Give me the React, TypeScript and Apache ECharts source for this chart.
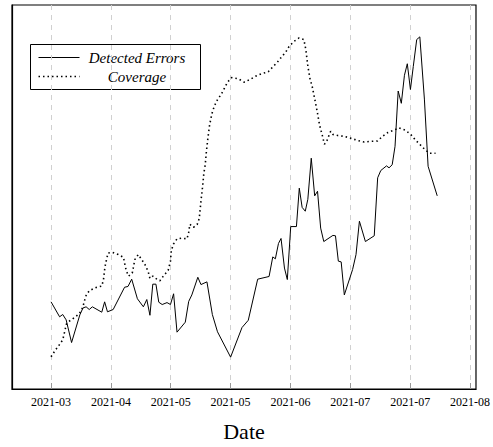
import React, { useEffect, useRef } from "react";
import * as echarts from "echarts";

// x = days since 2021-03-22, y = relative level (0-100 of plot height)
const errorDays = [
  0.0, 3.0, 4.1, 5.3, 7.2, 10.1, 11.2, 12.3, 13.4, 14.5, 17.8, 18.8, 19.8, 21.8,
  25.8, 27.0, 28.3, 30.3, 32.4, 33.6, 34.7, 35.7, 36.8, 37.8, 39.0, 40.7, 41.9,
  43.0, 44.2, 47.1, 48.3, 49.4, 51.5, 52.6, 54.7, 56.6, 58.4, 63.0, 67.0, 69.2,
  72.5, 76.5, 77.8, 78.7, 79.8, 80.7, 81.9, 82.9, 84.1, 86.1, 87.1, 88.1, 89.2,
  90.1, 91.3, 92.5, 93.5, 94.6, 95.7, 98.9, 99.8, 100.8, 101.8, 102.9, 105.8,
  107.0, 108.2, 110.3, 113.4, 114.6, 115.7, 117.7, 118.6, 119.7, 120.7, 121.8,
  122.9, 124.0, 125.0, 126.1, 127.1, 128.3, 129.4, 131.0, 132.3, 135.5,
];
const errorValues = [
  22.7, 18.8, 19.4, 18.0, 12.1, 19.3, 21.1, 21.4, 20.7, 21.4, 20.0, 22.7, 20.1, 20.7,
  26.5, 26.7, 28.6, 23.5, 21.4, 23.3, 19.2, 27.3, 27.3, 22.6, 22.0, 22.5, 22.0,
  24.8, 14.8, 17.4, 22.8, 24.5, 29.1, 27.2, 27.9, 19.4, 14.9, 8.3, 16.0, 17.9,
  28.6, 29.3, 34.4, 33.9, 37.9, 39.2, 31.5, 28.5, 42.3, 42.3, 52.3, 47.3, 46.3,
  49.4, 60.1, 50.3, 51.5, 41.9, 38.4, 40.0, 39.9, 33.3, 33.1, 24.5, 31.1,
  35.0, 43.7, 38.4, 39.9, 55.0, 56.9, 58.1, 57.6, 58.4, 63.2, 77.6,
  74.4, 81.7, 84.7, 78.0, 84.0, 91.0, 91.7, 75.5, 58.0, 50.3,
];

const coverageDays = [
  0.0, 1.4, 2.8, 4.1, 4.8, 5.4, 6.1, 8.2, 9.9, 11.1, 12.2, 13.4, 15.7, 17.8, 18.4,
  18.9, 19.4, 20.0, 21.5, 23.6, 25.4, 25.8, 26.4, 27.2, 28.5, 29.4, 30.6, 32.0,
  33.2, 34.1, 34.7, 35.7, 36.7, 38.2, 39.6, 41.1, 41.9, 42.2, 43.0, 44.2, 45.9,
  47.7, 48.3, 48.7, 50.0, 51.3, 52.0, 52.7, 53.2, 53.6, 54.1, 54.5, 55.0, 55.6,
  56.4, 57.3, 58.5, 59.7, 60.8, 61.9, 63.4, 65.7, 67.7, 69.8, 71.9, 73.8, 76.2,
  77.7, 79.4, 80.8, 82.4, 83.5, 85.2, 87.0, 88.7, 89.4, 90.1, 90.9, 91.6, 92.5,
  93.4, 94.2, 94.8, 95.4, 95.9, 96.5, 97.4, 98.1, 98.9, 100.6, 102.9, 105.2,
  107.6, 109.9, 112.2, 114.6, 116.3, 118.2, 120.3, 122.1, 124.3, 126.2, 127.8,
  129.4, 131.0, 132.7, 134.9,
];
const coverageValues = [
  8.4, 10.0, 11.4, 12.8, 15.0, 16.9, 17.5, 18.6, 19.6, 21.2, 24.2, 25.6, 26.4, 26.8, 28.5,
  31.7, 33.5, 35.4, 35.6, 35.0, 34.3, 32.8, 30.8, 29.4, 30.2, 33.7, 35.0, 33.5,
  32.1, 30.5, 28.8, 29.4, 28.8, 28.2, 29.6, 30.9, 33.3, 36.1, 37.8, 39.1, 39.3,
  39.1, 40.8, 42.9, 42.1, 42.9, 44.4, 49.6, 52.9, 56.1, 58.4, 61.8, 65.1, 68.6,
  71.6, 73.7, 75.5, 76.7, 78.3, 79.9, 81.1, 80.8, 79.9, 80.6, 81.5, 82.1, 82.6,
  83.8, 85.1, 86.4, 87.8, 89.2, 90.5, 91.4, 91.0, 88.4, 84.1, 80.6, 78.9, 75.6,
  72.2, 68.8, 67.1, 65.4, 63.8, 64.1, 65.8, 67.1, 66.3, 66.0, 65.8, 65.3,
  64.7, 64.3, 64.5, 64.6, 65.8, 66.8, 67.4, 68.0, 67.4, 66.3, 64.9,
  63.7, 62.5, 61.4, 61.4,
];

const tickDays = [0, 21, 42, 63, 84, 105, 126, 147];
const tickLabels = ["2021-03", "2021-04", "2021-05", "2021-05", "2021-06", "2021-07", "2021-07", "2021-08"];
const seriesNames = ["Detected Errors", "Coverage"];

const SERIF = "Liberation Serif";

export default function App() {
  const ref = useRef<HTMLDivElement>(null);
  useEffect(() => {
    if (!ref.current) return;
    const chart = echarts.init(ref.current, undefined, { renderer: "svg" });
    const errData = errorDays.map((d, i) => [d, errorValues[i]]);
    const covData = coverageDays.map((d, i) => [d, coverageValues[i]]);
    chart.setOption({
      animation: false,
      backgroundColor: "#fff",
      grid: {
        left: 12,
        top: 5,
        width: 467,
        height: 387,
        show: true,
        borderColor: "#000",
        borderWidth: 1.2,
        containLabel: false,
      },
      xAxis: {
        type: "value",
        min: -13.7,
        max: 149.1,
        name: "Date",
        nameLocation: "middle",
        nameGap: 31,
        nameTextStyle: { fontFamily: SERIF, fontSize: 22, color: "#000" },
        axisLine: { show: true, onZero: false, lineStyle: { color: "#000", width: 1.2 } },
        axisTick: {
          show: true,
          inside: true,
          length: 6,
          customValues: tickDays,
          lineStyle: { color: "#999", width: 1 },
        },
        axisLabel: {
          customValues: tickDays,
          margin: 7,
          fontFamily: SERIF,
          fontSize: 12,
          color: "#000",
          formatter: (v: number) => {
            const i = tickDays.indexOf(Math.round(v));
            return i >= 0 ? tickLabels[i] : "";
          },
        },
        splitLine: {
          show: true,
          lineStyle: { color: "#d0d0d0", type: [5, 5], width: 1 },
        },
      },
      yAxis: {
        type: "value",
        min: 0,
        max: 100,
        axisLine: { show: true, onZero: false, lineStyle: { color: "#000", width: 1.2 } },
        axisTick: { show: false },
        axisLabel: { show: false },
        splitLine: { show: false },
      },
      series: [
        {
          name: seriesNames[0],
          type: "line",
          data: errData,
          showSymbol: false,
          symbol: "none",
          lineStyle: { color: "#000", width: 1 },
          z: 3,
        },
        {
          name: seriesNames[1],
          type: "line",
          data: covData,
          showSymbol: false,
          symbol: "none",
          lineStyle: { color: "#000", width: 1.6, type: [1.5, 3] },
          z: 2,
        },
      ],
      graphic: [
        {
          type: "group",
          left: 30,
          top: 44,
          z: 100,
          children: [
            {
              type: "rect",
              shape: { x: 0, y: 0, width: 170, height: 45 },
              style: { fill: "#fff", stroke: "#000", lineWidth: 1 },
            },
            {
              type: "line",
              shape: { x1: 8, y1: 13, x2: 49, y2: 13 },
              style: { stroke: "#000", lineWidth: 1 },
            },
            {
              type: "text",
              x: 106.5,
              y: 13,
              style: {
                text: seriesNames[0],
                fontFamily: SERIF,
                fontStyle: "italic",
                fontSize: 15,
                fill: "#000",
                align: "center",
                verticalAlign: "middle",
              },
            },
            {
              type: "line",
              shape: { x1: 8, y1: 32, x2: 49, y2: 32 },
              style: { stroke: "#000", lineWidth: 1.6, lineDash: [1.5, 3] },
            },
            {
              type: "text",
              x: 106.5,
              y: 32,
              style: {
                text: seriesNames[1],
                fontFamily: SERIF,
                fontStyle: "italic",
                fontSize: 15,
                fill: "#000",
                align: "center",
                verticalAlign: "middle",
              },
            },
          ],
        },
      ],
    });
    return () => chart.dispose();
  }, []);
  return (
    <div
      ref={ref}
      style={{ position: "fixed", left: 0, top: 0, width: 493, height: 447, background: "#fff" }}
    />
  );
}
